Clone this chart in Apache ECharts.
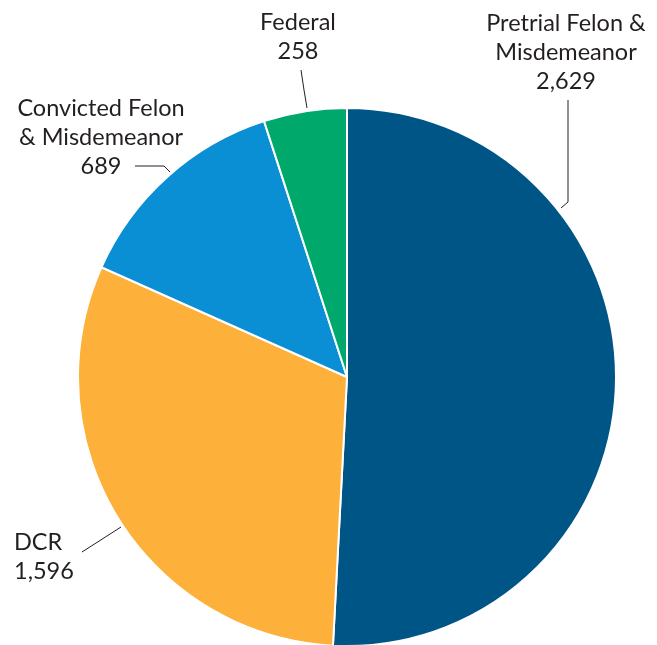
<!DOCTYPE html>
<html>
<head>
<meta charset="utf-8">
<script src="https://cdn.jsdelivr.net/npm/echarts@6/dist/echarts.min.js"></script>
<style>
  html, body { margin: 0; padding: 0; background: #fff; }
  #chart { width: 657px; height: 645px; }
</style>
</head>
<body>
<div id="chart"></div>
<script>
const categories = ["Pretrial Felon &\nMisdemeanor", "DCR", "Convicted Felon\n& Misdemeanor", "Federal"];
const values = [2629, 1596, 689, 258];
const colors = ["#005587", "#fdb03a", "#0a8fd5", "#00a96b"];

// label anchor + leader line per slice
const labelSpots = [
    { x: 566, y: 52, align: "center", line: [[561, 208], [568, 202], [568, 100]] },
    { x: 14, y: 557, align: "left", line: [[121, 527], [82, 552], [82, 552]] },
    { x: 101, y: 137, align: "center", line: [[170, 172], [164, 166], [135, 166]] },
    { x: 298, y: 37, align: "center", line: [[307, 108], [304, 90], [301, 70]] }
];

const chart = echarts.init(document.getElementById("chart"));

chart.setOption({
    animation: false,
    color: colors,
    series: [
        {
            type: "pie",
            center: [347, 377],
            radius: 269,
            startAngle: 90,
            clockwise: true,
            avoidLabelOverlap: false,
            itemStyle: { borderColor: "#fff", borderWidth: 2 },
            label: {
                show: true,
                position: "outside",
                overflow: "none",
                color: "#231f20",
                fontFamily: "Lato",
                fontSize: 23.5,
                lineHeight: 29,
                formatter: (p) => p.name + "\n" + p.value.toLocaleString("en-US")
            },
            labelLine: {
                show: true,
                lineStyle: { color: "#231f20", width: 1 }
            },
            labelLayout: (params) => {
                const s = labelSpots[params.dataIndex];
                return {
                    x: s.x,
                    y: s.y,
                    align: s.align,
                    verticalAlign: "middle",
                    hideOverlap: false,
                    labelLinePoints: s.line
                };
            },
            data: categories.map((name, i) => ({ name: name, value: values[i] }))
        }
    ]
});
</script>
</body>
</html>
